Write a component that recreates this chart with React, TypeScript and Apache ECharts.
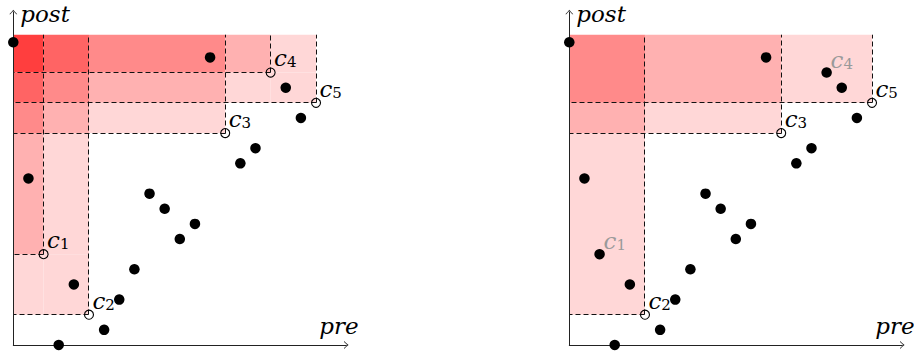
import React, { useEffect, useRef } from 'react';
import * as echarts from 'echarts';

// Data points (pre, post)
const dotX = [0, 13, 18, 19, 16, 15, 9, 10, 12, 11, 8, 7, 6, 3, 4, 1];
const dotY = [20, 19, 17, 15, 13, 12, 10, 9, 8, 7, 5, 3, 1, 0, 4, 11];

// Candidate points c1..c5
const candNames = ['1', '2', '3', '4', '5'];
const candX = [2, 5, 14, 17, 20];
const candY = [6, 2, 14, 18, 16];

// Right panel: kept candidates (open circles) and dropped ones (filled, grey label)
const rightKept = ['2', '3', '5'];
const rightDropped = ['1', '4'];

const regionTop = 20.5;
const axisMax = 22;
const shadeByCount = ['#ffffff', '#ffd7d7', '#ffb1b1', '#ff8a8a', '#ff6464', '#ff3e3e'];

const arrowPath = 'path://M0,8 Q4,4 7,0 Q10,4 14,8 L12.2,8 Q9.5,5 7,2.4 Q4.5,5 1.8,8 Z';

function idxOf(names: string[]) {
  return names.map((n) => candNames.indexOf(n));
}

function buildCells(idx: number[]) {
  const xs = Array.from(new Set([0, ...idx.map((i) => candX[i])])).sort((a, b) => a - b);
  const ys = Array.from(new Set([...idx.map((i) => candY[i]), regionTop])).sort((a, b) => a - b);
  const out: number[][] = [];
  for (let i = 0; i < xs.length - 1; i++) {
    for (let j = 0; j < ys.length - 1; j++) {
      const cx = (xs[i] + xs[i + 1]) / 2;
      const cy = (ys[j] + ys[j + 1]) / 2;
      let n = 0;
      idx.forEach((k) => {
        if (cx < candX[k] && cy > candY[k]) n++;
      });
      if (n > 0) out.push([xs[i], xs[i + 1], ys[j], ys[j + 1], n]);
    }
  }
  return out;
}

const richFor = (color: string) => ({
  c: { fontFamily: 'DejaVu Serif', fontStyle: 'italic', fontSize: 23, lineHeight: 24, color, verticalAlign: 'bottom' },
  n: { fontFamily: 'DejaVu Serif', fontSize: 15, lineHeight: 12, color, verticalAlign: 'bottom' },
});

const nameFont = { fontFamily: 'DejaVu Serif', fontStyle: 'italic', fontSize: 23, color: '#000' };

const snap = (v: number) => Math.round(v - 0.5) + 0.5;

function panelSeries(gi: number, kept: number[], dropped: number[]) {
  const cells = buildCells(kept);
  const series: any[] = [];
  series.push({
    type: 'custom',
    xAxisIndex: gi,
    yAxisIndex: gi,
    clip: false,
    z: 1,
    silent: true,
    encode: { x: [0, 1], y: [2, 3] },
    data: cells,
    renderItem: (params: any, api: any) => {
      const p0 = api.coord([api.value(0), api.value(3)]);
      const p1 = api.coord([api.value(1), api.value(2)]);
      return {
        type: 'rect',
        shape: { x: p0[0], y: p0[1], width: p1[0] - p0[0], height: p1[1] - p0[1] },
        style: { fill: shadeByCount[api.value(4)] },
      };
    },
  });
  series.push({
    type: 'custom',
    xAxisIndex: gi,
    yAxisIndex: gi,
    clip: false,
    z: 2,
    silent: true,
    data: kept.map((k) => [candX[k], candY[k]]),
    renderItem: (params: any, api: any) => {
      const a = api.value(0);
      const b = api.value(1);
      const c = api.coord([a, b]);
      const top = api.coord([a, regionTop]);
      const left = api.coord([0, b]);
      const st = { stroke: '#111', lineWidth: 1, lineDash: [5, 3], fill: null };
      const cx = snap(c[0]);
      const cy = snap(c[1]);
      return {
        type: 'group',
        children: [
          { type: 'line', shape: { x1: cx, y1: cy, x2: left[0], y2: cy }, style: st },
          { type: 'line', shape: { x1: cx, y1: cy, x2: cx, y2: top[1] }, style: st },
        ],
      };
    },
  });
  series.push({
    type: 'scatter',
    xAxisIndex: gi,
    yAxisIndex: gi,
    clip: false,
    z: 4,
    symbol: 'circle',
    symbolSize: 10.5,
    itemStyle: { color: '#000', opacity: 1 },
    data: dotX.map((x, i) => [x, dotY[i]]),
  });
  if (dropped.length) {
    series.push({
      type: 'scatter',
      xAxisIndex: gi,
      yAxisIndex: gi,
      clip: false,
      z: 4,
      symbol: 'circle',
      symbolSize: 10.5,
      itemStyle: { color: '#000', opacity: 1 },
      label: {
        show: true,
        position: [9.25, 3.75],
        align: 'left',
        verticalAlign: 'bottom',
        formatter: (p: any) => `{c|c}{n|${p.name}}`,
        rich: richFor('#9a9a9a'),
      },
      data: dropped.map((k) => ({ name: candNames[k], value: [candX[k], candY[k]] })),
    });
  }
  series.push({
    type: 'scatter',
    xAxisIndex: gi,
    yAxisIndex: gi,
    clip: false,
    z: 5,
    symbol: 'circle',
    symbolSize: 9,
    itemStyle: { color: 'rgba(0,0,0,0)', borderColor: '#000', borderWidth: 1.1, opacity: 1 },
    label: {
      show: true,
      position: [8.5, 2.5],
      align: 'left',
      verticalAlign: 'bottom',
      formatter: (p: any) => `{c|c}{n|${p.name}}`,
      rich: richFor('#000'),
    },
    data: kept.map((k) => ({ name: candNames[k], value: [candX[k], candY[k]] })),
  });
  return series;
}

export default function App() {
  const ref = useRef<HTMLDivElement>(null);
  useEffect(() => {
    if (!ref.current) return;
    const chart = echarts.init(ref.current, undefined, { renderer: 'svg' });
    const allIdx = idxOf(candNames);
    const axisLine = {
      show: true,
      onZero: false,
      symbol: ['none', arrowPath],
      symbolSize: [8, 5],
      lineStyle: { color: '#222', width: 1 },
    };
    const common = {
      type: 'value',
      min: 0,
      max: axisMax,
      splitLine: { show: false },
      axisTick: { show: false },
      axisLabel: { show: false },
      axisLine,
      nameLocation: 'end',
      nameMoveOverlap: false,
      z: 3,
    };
    chart.setOption({
      animation: false,
      grid: [
        { left: 13.3, top: 12, width: 333, height: 333, outerBoundsMode: 'none' },
        { left: 569.3, top: 12, width: 333, height: 333, outerBoundsMode: 'none' },
      ],
      xAxis: [0, 1].map((gi) => ({
        ...common,
        gridIndex: gi,
        name: 'pre',
        nameGap: -27,
        nameTextStyle: { ...nameFont, align: 'left', verticalAlign: 'bottom', lineHeight: 38 },
      })),
      yAxis: [0, 1].map((gi) => ({
        ...common,
        gridIndex: gi,
        name: 'post',
        nameGap: -2,
        nameTextStyle: { ...nameFont, align: 'left', verticalAlign: 'middle', padding: [0, 0, 0, 7] },
      })),
      series: [
        ...panelSeries(0, allIdx, []),
        ...panelSeries(1, idxOf(rightKept), idxOf(rightDropped)),
      ],
    });
    return () => chart.dispose();
  }, []);
  return (
    <div
      ref={ref}
      style={{ position: 'absolute', left: 0, top: 0, width: 914, height: 351, background: '#fff' }}
    />
  );
}
